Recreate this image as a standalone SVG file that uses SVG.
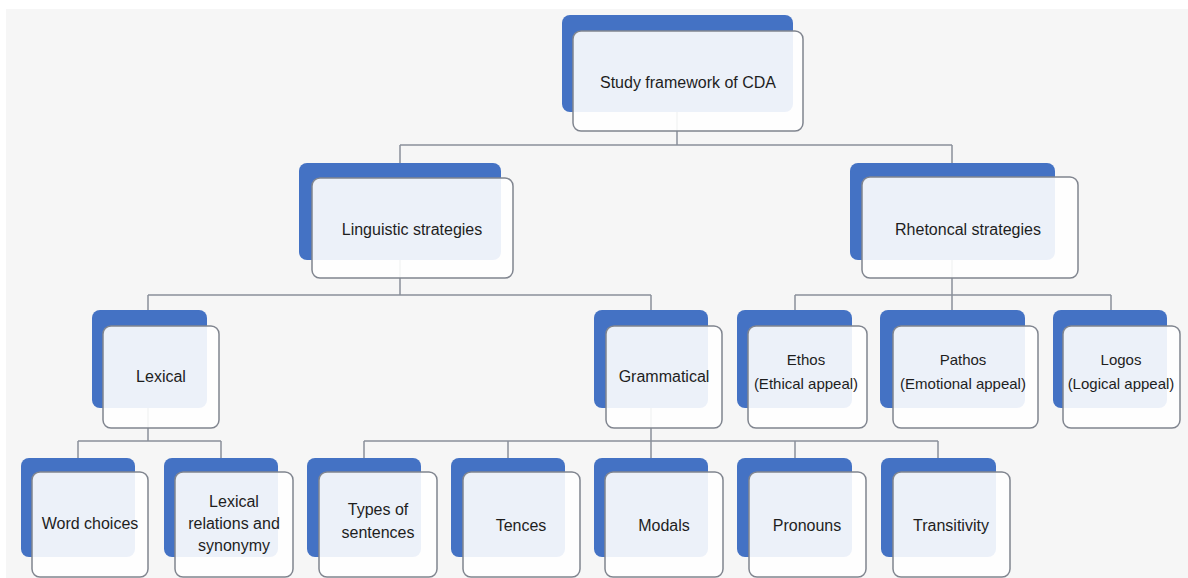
<svg xmlns="http://www.w3.org/2000/svg" width="1188" height="578" viewBox="0 0 1188 578">
<style>
.bg{fill:#f6f6f6}
.blue{fill:#4472c4}
.front{fill:#ffffff;fill-opacity:0.9;stroke:#80858f;stroke-width:1.5}
.conn{stroke:#8a909b;stroke-width:1.5;fill:none}
.t{font-family:"Liberation Sans",Arial,sans-serif;font-size:16px;fill:#1e1e1e;text-anchor:middle}
.s{font-size:15px}
</style>
<rect x="0" y="0" width="1188" height="578" fill="#ffffff"/>
<rect class="bg" x="6" y="9" width="1182" height="569"/>
<g id="connectors">
<path class="conn" d="M677 112V145M400 145H952M400 145V163M952 145V163"/>
<path class="conn" d="M400 260V295M148 295H651M148 295V310M651 295V310"/>
<path class="conn" d="M952 260V295M795 295H1111M795 295V310M952 295V310M1111 295V310"/>
<path class="conn" d="M148 408V441M78 441H221M78 441V458M221 441V458"/>
<path class="conn" d="M651 408V441M364 441H938M364 441V458M508 441V458M651 441V458M795 441V458M938 441V458"/>
</g>
<g id="n-root"><rect class="blue" x="562" y="15" width="231" height="97" rx="8"/><rect class="front" x="573" y="31" width="230" height="100" rx="8"/><text class="t" x="688" y="88">Study framework of CDA</text></g>
<g id="n-linguistic"><rect class="blue" x="299" y="163" width="202" height="97" rx="8"/><rect class="front" x="312" y="178" width="201" height="100" rx="8"/><text class="t" x="412" y="235">Linguistic strategies</text></g>
<g id="n-rhetorical"><rect class="blue" x="850" y="163" width="205" height="97" rx="8"/><rect class="front" x="862" y="177" width="216" height="101" rx="8"/><text class="t" x="968" y="235">Rhetoncal strategies</text></g>
<g id="n-lexical"><rect class="blue" x="92" y="310" width="115" height="98" rx="8"/><rect class="front" x="103" y="326" width="116" height="102" rx="8"/><text class="t" x="161" y="382">Lexical</text></g>
<g id="n-grammatical"><rect class="blue" x="594" y="310" width="114" height="98" rx="8"/><rect class="front" x="606" y="326" width="116" height="102" rx="8"/><text class="t" x="664" y="382">Grammatical</text></g>
<g id="n-ethos"><rect class="blue" x="737" y="310" width="115" height="98" rx="8"/><rect class="front" x="748" y="326" width="119" height="102" rx="8"/><text class="t s" x="806" y="365">Ethos</text><text class="t s" x="806" y="389">(Ethical appeal)</text></g>
<g id="n-pathos"><rect class="blue" x="880" y="310" width="145" height="98" rx="8"/><rect class="front" x="893" y="326" width="145" height="102" rx="8"/><text class="t s" x="963" y="365">Pathos</text><text class="t s" x="963" y="389">(Emotional appeal)</text></g>
<g id="n-logos"><rect class="blue" x="1053" y="310" width="114" height="98" rx="8"/><rect class="front" x="1063" y="326" width="117" height="102" rx="8"/><text class="t s" x="1121" y="365">Logos</text><text class="t s" x="1121" y="389">(Logical appeal)</text></g>
<g id="n-word-choices"><rect class="blue" x="21" y="458" width="114" height="99" rx="8"/><rect class="front" x="32" y="472" width="116" height="105" rx="8"/><text class="t" x="90" y="529">Word choices</text></g>
<g id="n-lexical-relations"><rect class="blue" x="164" y="458" width="114" height="99" rx="8"/><rect class="front" x="175" y="472" width="118" height="105" rx="8"/><text class="t" x="234" y="507">Lexical</text><text class="t" x="234" y="529">relations and</text><text class="t" x="234" y="551">synonymy</text></g>
<g id="n-types"><rect class="blue" x="307" y="458" width="114" height="99" rx="8"/><rect class="front" x="319" y="472" width="118" height="105" rx="8"/><text class="t" x="378" y="515">Types of</text><text class="t" x="378" y="538">sentences</text></g>
<g id="n-tences"><rect class="blue" x="451" y="458" width="114" height="99" rx="8"/><rect class="front" x="463" y="472" width="117" height="105" rx="8"/><text class="t" x="521" y="531">Tences</text></g>
<g id="n-modals"><rect class="blue" x="594" y="458" width="114" height="99" rx="8"/><rect class="front" x="605" y="472" width="118" height="105" rx="8"/><text class="t" x="664" y="531">Modals</text></g>
<g id="n-pronouns"><rect class="blue" x="737" y="458" width="115" height="99" rx="8"/><rect class="front" x="749" y="472" width="117" height="105" rx="8"/><text class="t" x="807" y="531">Pronouns</text></g>
<g id="n-transitivity"><rect class="blue" x="881" y="458" width="115" height="99" rx="8"/><rect class="front" x="893" y="472" width="117" height="105" rx="8"/><text class="t" x="951" y="531">Transitivity</text></g>
</svg>
